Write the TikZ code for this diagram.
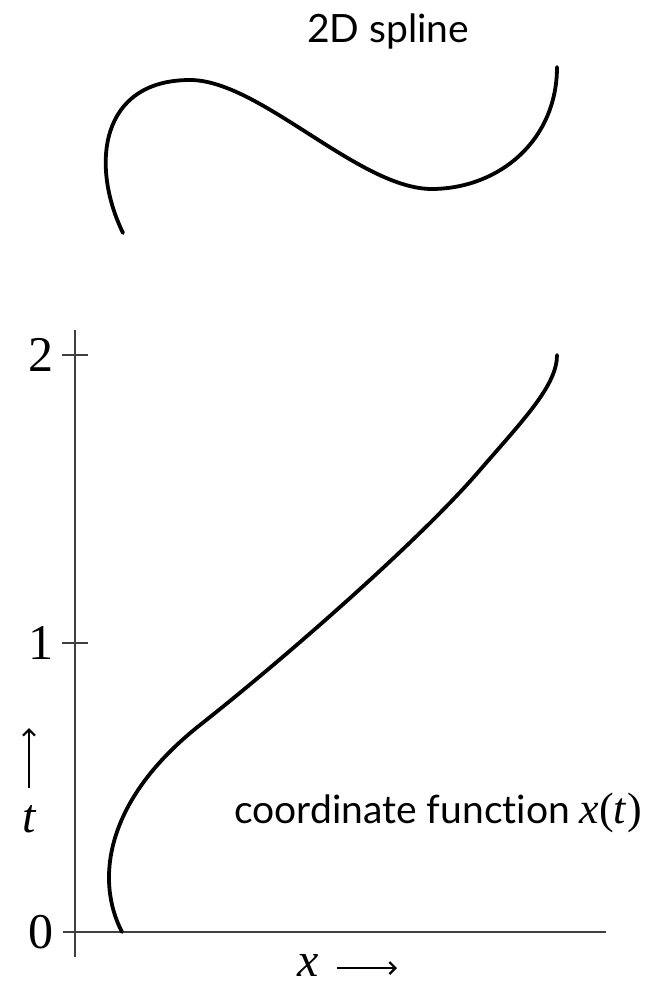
\documentclass[tikz,border=0pt]{standalone}
\usepackage{fontspec}
\setmainfont{Liberation Serif}
\newfontfamily\labfont[Ligatures=NoCommon]{Lato}
\usetikzlibrary{arrows.meta}
\tikzset{curve/.style={line width=1.9pt,line cap=round},axis/.style={line width=1.2pt,black!75},
  lab/.style={font=\labfont\fontsize{19.5}{22}\selectfont,anchor=base,inner sep=0pt},
  num/.style={font=\fontsize{25}{28}\selectfont,inner sep=0pt},
  dirarrow/.style={-{Straight Barb[length=3pt,width=6pt]},line width=1.1pt}}

\begin{document}
\begin{tikzpicture}[x=0.5pt,y=-0.5pt]
\useasboundingbox (0,0) rectangle (647,985);
% 2D spline
\node[lab] (title) at (388,42) {2D spline};
\draw[curve] (123,233) .. controls (90,165) and (100,80) .. (190,80) .. controls (260,80) and (360,190) .. (433,189) .. controls (500,188) and (557,140) .. (557,67);
% axes
\coordinate (o) at (75,932);
\coordinate (ytop) at (75,330);
\coordinate (ybot) at (75,957);
\coordinate (xl) at (63,932);
\coordinate (xr) at (606,932);
\draw[axis] (ybot)--(ytop);
\draw[axis] (xl)--(xr);
\foreach \t/\y in {1/643,2/355}{\draw[axis] (62,\y)--(88,\y);\node[num] (n\t) at (41,\y) {\t};}
\node[num] (n0) at (41,932) {0};
% coordinate function
\draw[curve] (122,932) .. controls (95,880) and (105,800) .. (200,725) .. controls (285,658) and (420,540) .. (480,470) .. controls (525,418) and (557,385) .. (557,355);
\node[lab] (fun) at (438,823) {coordinate function {\fontsize{22}{24}\selectfont\rmfamily\itshape x}{\fontsize{22}{24}\selectfont\rmfamily(\textit{t})}};
% direction labels
\node[num,font=\fontsize{24}{28}\selectfont\itshape] (tlab) at (29,819) {t};
\coordinate (tend) at (29,728);
\draw[dirarrow] (29,788)--(tend);
\node[num,font=\fontsize{24}{28}\selectfont\itshape] (xlab) at (308,965) {x};
\coordinate (xend) at (397,968);
\draw[dirarrow] (337,968)--(xend);
\end{tikzpicture}
\end{document}
